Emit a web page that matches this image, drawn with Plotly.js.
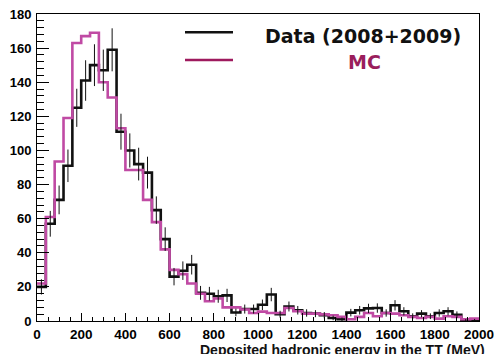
<!DOCTYPE html>
<html>
<head>
<meta charset="utf-8">
<script src="https://cdn.plot.ly/plotly-3.0.1.min.js"></script>
<style>html,body{margin:0;padding:0;background:#fff;}#chart{width:494px;height:354px;}</style>
</head>
<body>
<div id="chart"></div>
<script>
// Bin edges (MeV)
const binEdges = [0,40,80,120,160,200,240,280,320,360,400,440,480,520,560,600,640,680,720,760,800,
  840,880,920,960,1000,1040,1080,1120,1160,1200,1240,1280,1320,1360,1400,1440,1480,1520,1560,1600,
  1640,1680,1720,1760,1800,1840,1880,1920,1960,2000];

// Data (2008+2009) counts per bin
const dataCounts = [20,57,71,91,125,141,150,147,159,111,100,92,87,65,48,26,29.5,33,16.5,16,14.5,
  15,5,7,7,9.5,15.5,4,8.5,6.3,4.7,4.3,3.4,1.8,1,4.9,6.3,7.4,7.6,4.7,9.2,5.7,2.8,4.3,2.8,4.7,5.7,3.7,0.5,0.5];

// MC prediction per bin
const mcCounts = [22,61,93.5,119,163,167,169,140,131,113,88.5,88.5,71,58,42,30,27.5,22,16,11.6,13.2,
  8,8,6.7,4.7,5.5,4.7,4.7,7.6,5.7,4.3,4.3,3.9,3.4,2.4,1,2.4,4.7,2.8,4.7,4.3,3.4,2.4,1.8,2.4,1.4,2.8,2.4,1,1.4];

const xTickVals = [0,200,400,600,800,1000,1200,1400,1600,1800,2000];
const yTickVals = [0,20,40,60,80,100,120,140,160,180];

function stepY(v){ return v.concat([v[v.length-1]]); }
const centers = binEdges.slice(0,-1).map((e,i)=> (e+binEdges[i+1])/2);
const dataErr = dataCounts.map(v=>Math.sqrt(v));

const traces = [
  {x: binEdges, y: stepY(dataCounts), type:'scatter', mode:'lines', line:{shape:'hv', color:'#111111', width:2.6}, hoverinfo:'skip', showlegend:false},
  {x: binEdges, y: stepY(mcCounts), type:'scatter', mode:'lines', line:{shape:'hv', color:'#c04aa4', width:2.6}, hoverinfo:'skip', showlegend:false},
  {x: centers, y: dataCounts, type:'scatter', mode:'markers', marker:{size:1, opacity:0, color:'black'},
   error_y:{type:'data', array:dataErr, visible:true, width:0, thickness:1, color:'#111111'}, hoverinfo:'skip', showlegend:false}
];

const L = 37, R = 15, T = 14, B = 33, W = 494, H = 354;
const pw = W-L-R, ph = H-T-B;
const px = x => (x-L)/pw;
const py = y => (H-B-y)/ph;

const tickFont = {family:'"Liberation Sans", Arial, sans-serif', size:13, color:'black', weight:'bold'};

const layout = {
  width: W, height: H,
  margin: {l:L, r:R, t:T, b:B, pad:0},
  paper_bgcolor:'white', plot_bgcolor:'white',
  showlegend:false,
  xaxis: {
    range:[0,2000], tickvals:xTickVals, ticktext:xTickVals.map(String),
    ticks:'inside', ticklen:8, tickwidth:1, tickcolor:'black',
    minor:{ticks:'inside', ticklen:4, dtick:50, tick0:0, tickwidth:1, tickcolor:'black', showgrid:false},
    showline:true, linecolor:'black', linewidth:1, mirror:true,
    showgrid:false, zeroline:false, ticklabeloverflow:'allow',
    tickfont:Object.assign({}, tickFont, {size:13.5}), ticklabelstandoff:1
  },
  yaxis: {
    range:[0,180], tickvals:yTickVals, ticktext:yTickVals.map(String),
    ticks:'inside', ticklen:12, tickwidth:1, tickcolor:'black',
    minor:{ticks:'inside', ticklen:6.5, dtick:4, tick0:0, tickwidth:1, tickcolor:'black', showgrid:false},
    showline:true, linecolor:'black', linewidth:1, mirror:true,
    showgrid:false, zeroline:false, ticklabeloverflow:'allow',
    tickfont:tickFont, ticklabelstandoff:2
  },
  shapes: [
    {type:'line', xref:'paper', yref:'paper', x0:px(185), x1:px(233), y0:py(32.3), y1:py(32.3), line:{color:'#111111', width:2.6}},
    {type:'line', xref:'paper', yref:'paper', x0:px(185), x1:px(233), y0:py(60), y1:py(60), line:{color:'#9e1a5e', width:2.6}}
  ],
  annotations: [
    {text:'Data (2008+2009)', xref:'paper', yref:'paper', x:px(363), y:py(36), xanchor:'center', yanchor:'middle', showarrow:false,
     font:{family:'"DejaVu Sans", sans-serif', size:19, color:'#111111', weight:'bold'}},
    {text:'MC', xref:'paper', yref:'paper', x:px(364), y:py(62), xanchor:'center', yanchor:'middle', showarrow:false,
     font:{family:'"DejaVu Sans", sans-serif', size:19, color:'#9a1e5c', weight:'bold'}},
    {text:'Deposited hadronic energy in the TT (MeV)', xref:'paper', yref:'paper', x:px(487), y:py(339.5), xanchor:'right', yanchor:'top', showarrow:false,
     font:{family:'"Liberation Sans", Arial, sans-serif', size:14, color:'#111111', weight:'bold'}}
  ]
};

Plotly.newPlot('chart', traces, layout, {staticPlot:true, displayModeBar:false});
</script>
</body>
</html>
